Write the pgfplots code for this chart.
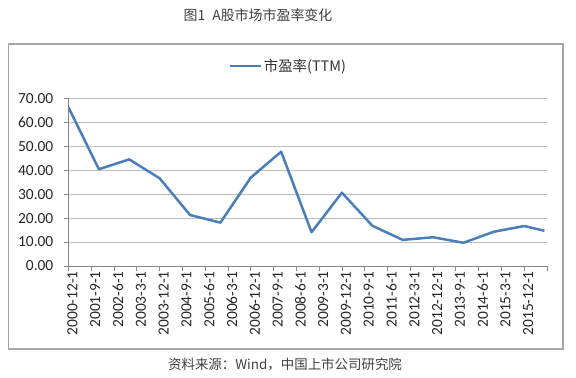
\documentclass[border=0pt]{standalone}
\usepackage{fontspec}
\setmainfont{Carlito}
\newfontfamily\cjk{Noto Sans CJK SC}
\usepackage{pgfplots}
\pgfplotsset{compat=1.18}
\definecolor{pe}{HTML}{4A7EBB}
\definecolor{gridc}{HTML}{BFBFBF}
\definecolor{axc}{HTML}{868686}
\begin{document}
\begin{tikzpicture}[x=1bp,y=1bp]
\path[use as bounding box] (0,0) rectangle (576,377);
\draw[color=gray!70, line width=1.2bp] (8.5,28) rectangle (563,333);
\node[font=\cjk\fontsize{14}{16}\selectfont, text=black!75] at (258,362) {图1\hspace{0.5em}A股市场市盈率变化};
\node[font=\cjk\fontsize{13.5}{16}\selectfont, text=black!75] at (285,12) {资料来源：Wind，中国上市公司研究院};
\begin{axis}[
  at={(68.5bp,111bp)}, anchor=south west,
  width=478.5bp, height=167.7bp, scale only axis,
  xmin=0, xmax=189, ymin=0, ymax=70,
  ytick={0,10,...,70},
  xtick={0,9,...,189},
  xticklabels={2000-12-1,2001-9-1,2002-6-1,2003-3-1,2003-12-1,2004-9-1,2005-6-1,2006-3-1,2006-12-1,2007-9-1,2008-6-1,2009-3-1,2009-12-1,2010-9-1,2011-6-1,2012-3-1,2012-12-1,2013-9-1,2014-6-1,2015-3-1,2015-12-1,{}},
  axis lines*=left,
  axis line style={draw=axc, line width=0.8bp},
  tick style={draw=axc, line width=0.8bp},
  tick align=outside, major tick length=5bp,
  ymajorgrids, grid style={draw=gridc, line width=0.9bp},
  /pgf/number format/fixed, /pgf/number format/fixed zerofill, /pgf/number format/precision=2, /pgf/number format/assume math mode=true,
  yticklabel style={font=\fontsize{15.5}{16}\selectfont, text=black!85, inner sep=0pt, xshift=-10bp},
  xticklabel style={font=\fontsize{15.5}{16}\selectfont, text=black!85, rotate=90, anchor=east, inner sep=0pt, yshift=-4bp},
  legend style={at={(0.459,1.193)}, anchor=center, draw=none, fill=none, font=\cjk\fontsize{14.5}{16}\selectfont, text=black!80},
  legend image code/.code={\draw[line width=2.5bp, pe] (0bp,0bp) -- (31bp,0bp);},
]
\addplot[pe, line width=2.5bp, line join=round] coordinates {
(0,66.2) (12,40.4) (24,44.5) (36,36.6) (48,21.3) (60,18.1) (72,36.9) (84,47.7)
(96,14.1) (108,30.6) (120,16.8) (132,10.9) (144,12.0) (156,9.7) (168,14.3) (180,16.7) (188,14.7)
};
\addlegendentry{市盈率(TTM)}
\end{axis}
\end{tikzpicture}
\end{document}
